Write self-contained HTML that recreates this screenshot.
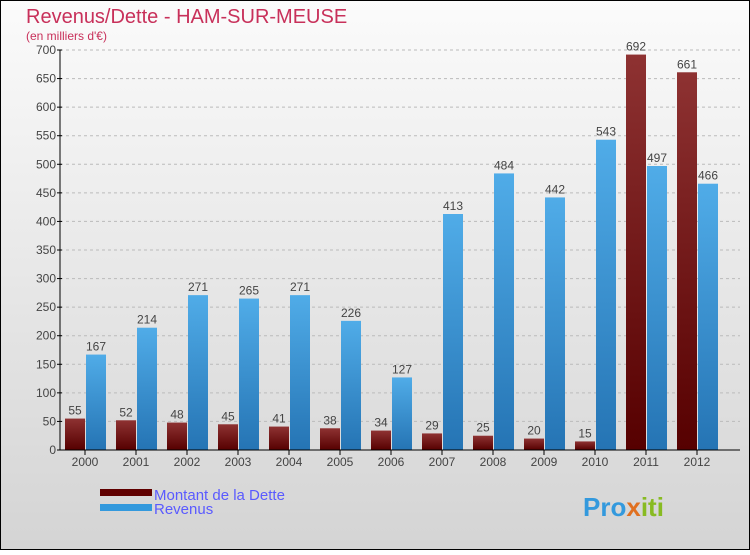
<!DOCTYPE html>
<html><head><meta charset="utf-8"><style>
html,body{margin:0;padding:0}
body{width:750px;height:550px;overflow:hidden;font-family:"Liberation Sans",sans-serif}
</style></head><body>
<svg width="750" height="550" xmlns="http://www.w3.org/2000/svg">
<defs>
<linearGradient id="bg" x1="0" y1="0" x2="0" y2="1"><stop offset="0" stop-color="#fbfbfb"/><stop offset="1" stop-color="#d4d4d4"/></linearGradient>
<linearGradient id="gd" x1="0" y1="0" x2="0" y2="1"><stop offset="0" stop-color="#8e3232"/><stop offset="1" stop-color="#560000"/></linearGradient>
<linearGradient id="gr" x1="0" y1="0" x2="0" y2="1"><stop offset="0" stop-color="#50ace8"/><stop offset="1" stop-color="#2574b4"/></linearGradient>
</defs>
<rect x="0.5" y="0.5" width="749" height="549" fill="url(#bg)" stroke="#000"/>
<text x="26" y="23" font-size="20" fill="#c8305a">Revenus/Dette - HAM-SUR-MEUSE</text>
<text x="26" y="40" font-size="12" fill="#c8305a">(en milliers d'€)</text>
<g id="grid"></g><g id="bars"></g><g id="axes"></g>
<rect x="100" y="489" width="52" height="7" fill="#600000"/>
<text x="154" y="500" font-size="15" fill="#5a5aff">Montant de la Dette</text>
<rect x="100" y="504" width="52" height="7" fill="#3399dd"/>
<text x="154" y="514" font-size="15" fill="#5a5aff">Revenus</text>
<text x="583" y="516" font-size="26" font-weight="bold" fill="#3399dd">Pro<tspan fill="#e07020">x</tspan><tspan fill="#88bb22">iti</tspan></text>
</svg>
<script>
const years=["2000","2001","2002","2003","2004","2005","2006","2007","2008","2009","2010","2011","2012"];
const dette=[55,52,48,45,41,38,34,29,25,20,15,692,661];
const revenus=[167,214,271,265,271,226,127,413,484,442,543,497,466];
const yTicks=[0,50,100,150,200,250,300,350,400,450,500,550,600,650,700];
const NS="http://www.w3.org/2000/svg";
const y=v=>450-v*400/700;
const xc=i=>85+i*51;
function mk(t,a,p){const e=document.createElementNS(NS,t);for(const k in a)e.setAttribute(k,a[k]);p.appendChild(e);return e;}
const grid=document.getElementById('grid'),bars=document.getElementById('bars'),axes=document.getElementById('axes');
yTicks.forEach(v=>{
 if(v>0){const l=mk('line',{x1:60,x2:740,y1:y(v),y2:y(v),stroke:'#bbb','stroke-dasharray':'3,3'},grid);
 
 }
 const t=mk('line',{x1:57,x2:62,y1:y(v),y2:y(v),stroke:'#000'},axes);
 
 
 const tx=mk('text',{x:56,y:y(v)+4,'font-size':12,'text-anchor':'end',fill:'#444'},axes);tx.textContent=v;
 
 
});
years.forEach((yr,i)=>{
 const c=xc(i);
 const b1=mk('rect',{x:c-20,y:y(dette[i]),width:20,height:450-y(dette[i]),fill:'url(#gd)'},bars);
 
 
 const b2=mk('rect',{x:c+1,y:y(revenus[i]),width:20,height:450-y(revenus[i]),fill:'url(#gr)'},bars);
 
 
 const l1=mk('text',{x:c-10,y:y(dette[i])-4,'font-size':12,'text-anchor':'middle',fill:'#444'},bars);l1.textContent=dette[i];
 
 
 const l2=mk('text',{x:c+11,y:y(revenus[i])-4,'font-size':12,'text-anchor':'middle',fill:'#444'},bars);l2.textContent=revenus[i];
 
 
 const t=mk('line',{x1:c,x2:c,y1:450,y2:455,stroke:'#000'},axes);
 
 
 const tx=mk('text',{x:c,y:466,'font-size':12,'text-anchor':'middle',fill:'#444'},axes);tx.textContent=yr;
 
 
});
const ya=mk('line',{x1:60,x2:60,y1:50,y2:450,stroke:'#000'},axes);


const xa=mk('line',{x1:60,x2:740,y1:450,y2:450,stroke:'#000'},axes);


</script>
</body></html>
